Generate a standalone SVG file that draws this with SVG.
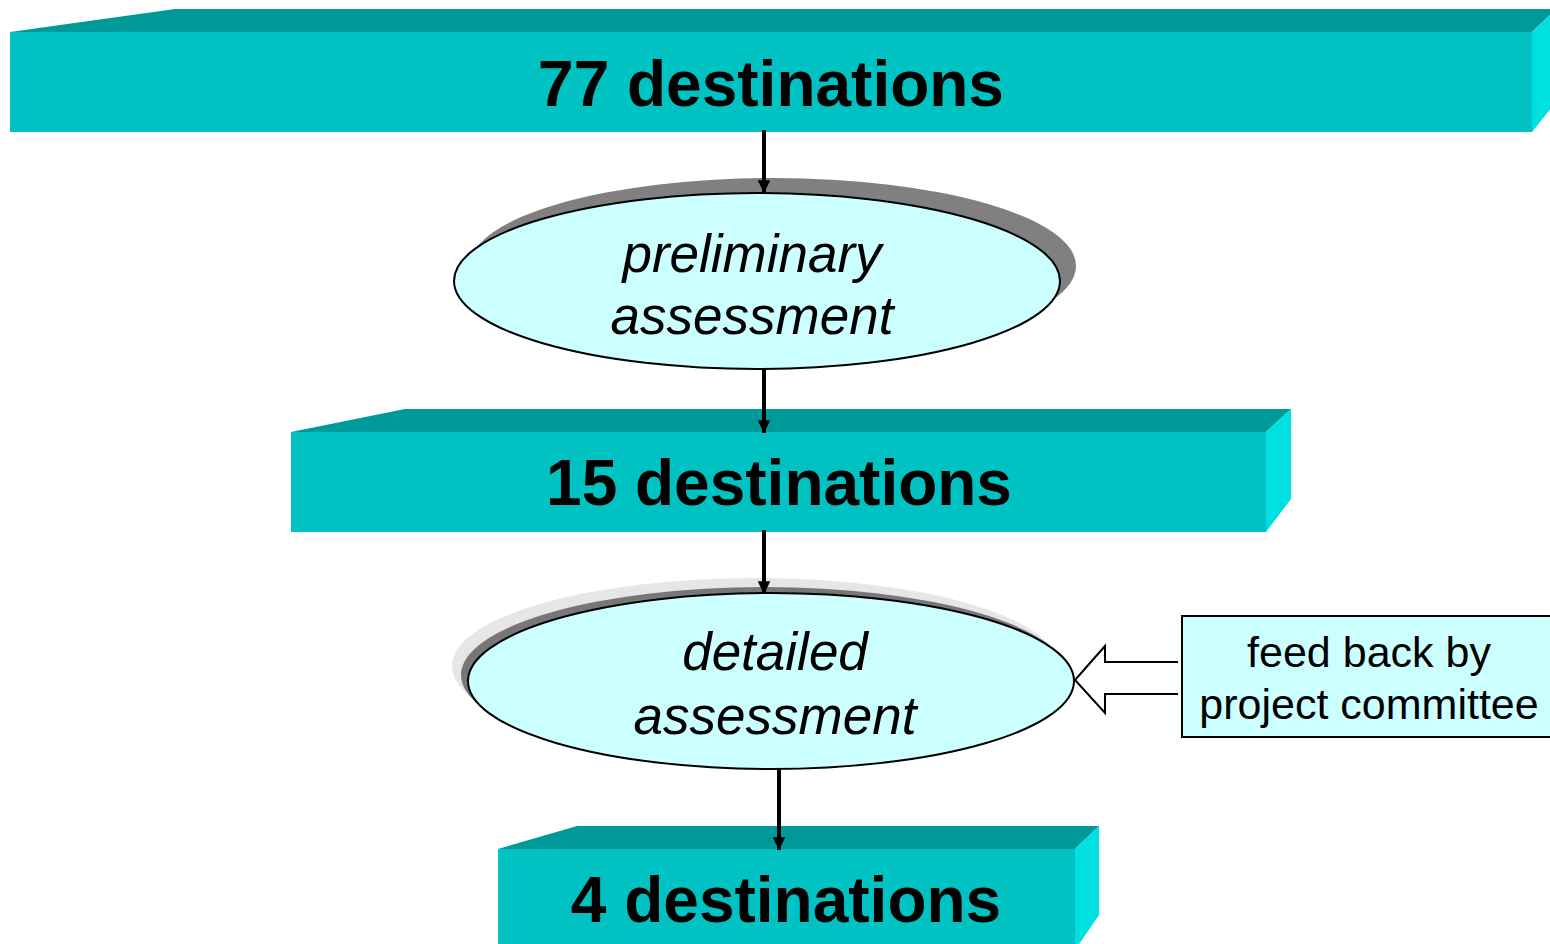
<svg xmlns="http://www.w3.org/2000/svg" width="1550" height="944" viewBox="0 0 1550 944">
<defs>
<style>
.front{fill:#00C2C2}
.top{fill:#009999}
.side{fill:#00E0E0}
.bar{font-family:"Liberation Sans",Arial,sans-serif;font-weight:bold;font-size:64px;fill:#000;text-anchor:middle}
.ell{fill:#CCFFFF;stroke:#000;stroke-width:2}
.etxt{font-family:"Liberation Sans",Arial,sans-serif;font-style:italic;font-size:53px;fill:#000;text-anchor:middle}
.ftxt{font-family:"Liberation Sans",Arial,sans-serif;font-size:43px;fill:#000;text-anchor:middle}
.conn{stroke:#000;stroke-width:4;fill:none}
</style>
<marker id="ah" viewBox="0 0 10 10" refX="10" refY="5" markerWidth="3.2" markerHeight="3.2" markerUnits="strokeWidth" orient="auto">
<path d="M0,0 L10,5 L0,10 z" fill="#000"/>
</marker>
</defs>
<rect width="1550" height="944" fill="#fff"/>

<g id="bar77">
<polygon class="top" points="10,32 175,9 1556,9 1532,32"/>
<polygon class="side" points="1532,32 1556,9 1556,102 1532,132"/>
<rect class="front" x="10" y="32" width="1522" height="100"/>
<text class="bar" x="771" y="106">77 destinations</text>
</g>

<g id="preliminary">
<ellipse cx="773" cy="266" rx="303" ry="88" fill="#808080"/>
<ellipse class="ell" cx="757" cy="281" rx="303" ry="88"/>
<text class="etxt" x="752" y="272">preliminary</text>
<text class="etxt" x="752" y="334">assessment</text>
</g>

<g id="bar15">
<polygon class="top" points="291,432 405,409 1291,409 1266,432"/>
<polygon class="side" points="1266,432 1291,409 1291,499 1266,532"/>
<rect class="front" x="291" y="432" width="975" height="100"/>
<text class="bar" x="779" y="505">15 destinations</text>
</g>

<g id="detailed">
<ellipse cx="755" cy="666" rx="303" ry="88" fill="#E6E6E6"/>
<ellipse cx="764" cy="675" rx="303" ry="88" fill="#777777"/>
<ellipse class="ell" cx="771" cy="681" rx="303" ry="88"/>
<text class="etxt" x="775" y="670">detailed</text>
<text class="etxt" x="775" y="734">assessment</text>
</g>

<g id="feedback">
<rect x="1182" y="616" width="372" height="121" fill="#CCFFFF" stroke="#000" stroke-width="2"/>
<text class="ftxt" x="1369" y="667">feed back by</text>
<text class="ftxt" x="1369" y="719">project committee</text>
</g>

<g id="bar4">
<polygon class="top" points="498,849 577,826 1099,826 1075,849"/>
<polygon class="side" points="1075,849 1099,826 1099,915 1075,950"/>
<rect class="front" x="498" y="849" width="577" height="100"/>
<text class="bar" x="786" y="922">4 destinations</text>
</g>

<g id="connectors">
<line class="conn" x1="764" y1="130" x2="764" y2="193" marker-end="url(#ah)"/>
<line class="conn" x1="764" y1="369" x2="764" y2="433" marker-end="url(#ah)"/>
<line class="conn" x1="764" y1="530" x2="764" y2="594" marker-end="url(#ah)"/>
<line class="conn" x1="779" y1="769" x2="779" y2="850" marker-end="url(#ah)"/>
<path d="M1178,662 L1105,662 L1105,646 L1075,680 L1105,713 L1105,694 L1178,694" fill="#fff" stroke="#000" stroke-width="2"/>
</g>
</svg>
